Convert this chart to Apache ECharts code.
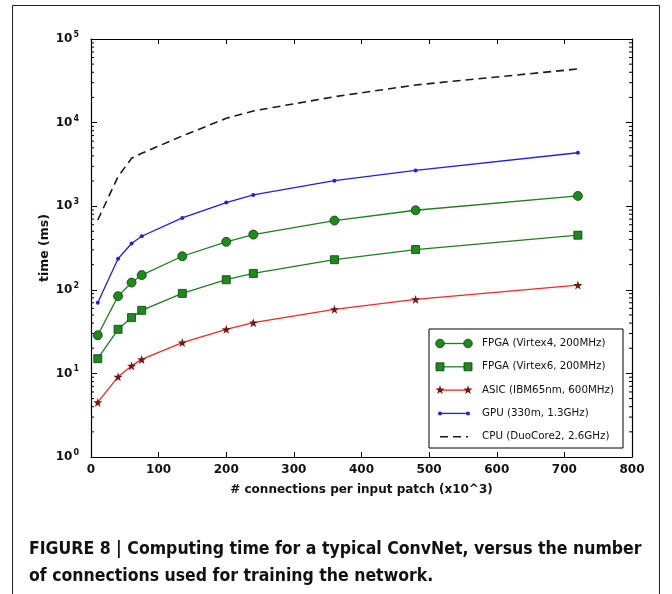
<!DOCTYPE html>
<html>
<head>
<meta charset="utf-8">
<script src="https://cdn.jsdelivr.net/npm/echarts@6/dist/echarts.min.js"></script>
<style>
  html, body { margin: 0; padding: 0; background: #fff; }
  #chart { width: 672px; height: 594px; }
</style>
</head>
<body>
<div id="chart"></div>
<script>
// connections per input patch (x10^3)
const xConn = [10, 40, 60, 75, 135, 200, 240, 360, 480, 720];
// time (ms)
const fpgaV4 = [28.6, 84, 122, 150, 252, 375, 458, 673, 894, 1327];
const fpgaV6 = [15, 33.7, 46.5, 56.8, 90.6, 132, 157, 229, 303, 450];
const asic = [4.5, 9.1, 12.3, 14.7, 23.4, 33.7, 40.4, 58.4, 76.8, 114];
const gpu = [70, 235, 358, 437, 725, 1104, 1364, 2020, 2680, 4360];
const cpu = [684, 2254, 3740, 4300, 6920, 11250, 13780, 20400, 28200, 43800];

const yExponents = [0, 1, 2, 3, 4, 5];
const xTicks = [0, 100, 200, 300, 400, 500, 600, 700, 800];

const FONT = 'DejaVu Sans';
const STAR = 'path://M0,-10L2.35,-3.24L9.51,-3.09L3.8,1.24L5.88,8.09L0,4L-5.88,8.09L-3.8,1.24L-9.51,-3.09L-2.35,-3.24Z';

const seriesDefs = [
  { name: 'FPGA (Virtex4, 200MHz)', data: fpgaV4, line: '#1f7f1f', symbol: 'circle', size: 9, fill: '#1e8a1e', edge: '#0b3d0b', mark: 'circle' },
  { name: 'FPGA (Virtex6, 200MHz)', data: fpgaV6, line: '#1f7f1f', symbol: 'rect', size: 8, fill: '#1e8a1e', edge: '#0b3d0b', mark: 'rect' },
  { name: 'ASIC (IBM65nm, 600MHz)', data: asic, line: '#ee2a2a', symbol: STAR, size: 9, fill: '#7a1414', edge: '#7a1414', mark: 'star' },
  { name: 'GPU (330m, 1.3GHz)', data: gpu, line: '#2020e0', symbol: 'circle', size: 4, fill: '#2020e0', edge: '#2020e0', mark: 'dot' },
  { name: 'CPU (DuoCore2, 2.6GHz)', data: cpu, line: '#1a1a1a', symbol: 'none', size: 0, fill: '#1a1a1a', edge: '#1a1a1a', mark: 'dash' }
];

// log minor tick values (2..9 x 10^k)
const minorTicks = [];
for (let k = 0; k < 5; k++) {
  for (let m = 2; m <= 9; m++) minorTicks.push([0, m * Math.pow(10, k)]);
}

function starPoints(cx, cy, r) {
  const pts = [];
  for (let i = 0; i < 10; i++) {
    const rr = i % 2 === 0 ? r : r * 0.4;
    const a = -Math.PI / 2 + i * Math.PI / 5;
    pts.push([cx + rr * Math.cos(a), cy + rr * Math.sin(a)]);
  }
  return pts;
}

// legend drawn like the matplotlib one (two markers per entry)
function buildLegend() {
  const box = { x: 429, y: 329, w: 194, h: 119 };
  const els = [{
    type: 'rect', shape: { x: box.x, y: box.y, width: box.w, height: box.h },
    style: { fill: '#fff', stroke: '#000', lineWidth: 1 }, z: 100
  }];
  seriesDefs.forEach((s, i) => {
    const cy = box.y + 14.5 + i * 23.3;
    const x1 = 440, x2 = 468;
    els.push({
      type: 'line', shape: { x1: x1, y1: cy, x2: x2, y2: cy }, z: 101,
      style: { stroke: s.line, lineWidth: s.mark === 'dash' ? 1.6 : 1.3, lineDash: s.mark === 'dash' ? [8, 5] : null }
    });
    [x1, x2].forEach(px => {
      if (s.mark === 'circle') {
        els.push({ type: 'circle', shape: { cx: px, cy: cy, r: 4.3 }, z: 102, style: { fill: s.fill, stroke: s.edge, lineWidth: 0.8 } });
      } else if (s.mark === 'rect') {
        els.push({ type: 'rect', shape: { x: px - 4, y: cy - 4, width: 8, height: 8 }, z: 102, style: { fill: s.fill, stroke: s.edge, lineWidth: 0.8 } });
      } else if (s.mark === 'star') {
        els.push({ type: 'polygon', shape: { points: starPoints(px, cy, 4.8) }, z: 102, style: { fill: s.fill } });
      } else if (s.mark === 'dot') {
        els.push({ type: 'circle', shape: { cx: px, cy: cy, r: 2 }, z: 102, style: { fill: s.fill } });
      }
    });
    els.push({
      type: 'text', z: 102,
      style: { text: s.name, x: 482, y: cy, font: '10.3px ' + FONT, fill: '#111', verticalAlign: 'middle', textVerticalAlign: 'middle' }
    });
  });
  return els;
}

const chart = echarts.init(document.getElementById('chart'), null, { renderer: 'canvas' });

const axisLine = { show: true, onZero: false, lineStyle: { color: '#000', width: 1.2 } };

const option = {
  backgroundColor: '#fff',
  animation: false,
  title: {
    text: 'FIGURE 8 | Computing time for a typical ConvNet, versus the number\nof connections used for training the network.',
    left: 24, top: 531,
    textStyle: { fontFamily: 'DejaVu Sans Condensed', fontWeight: 'bold', fontSize: 17.5, lineHeight: 27, color: '#111' }
  },
  grid: { left: 91, top: 39, right: 40, bottom: 137, show: false },
  xAxis: [{
    type: 'value', min: 0, max: 800, interval: 100, position: 'bottom',
    name: '# connections per input patch (x10^3)', nameLocation: 'middle', nameGap: 27,
    nameTextStyle: { fontFamily: FONT, fontWeight: 'bold', fontSize: 12, color: '#111' },
    axisLine: axisLine,
    axisTick: { inside: true, length: 5, lineStyle: { color: '#000', width: 1 } },
    axisLabel: { margin: 7, fontFamily: FONT, fontWeight: 'bold', fontSize: 12, color: '#111',
      formatter: v => xTicks.indexOf(v) >= 0 ? String(v) : '' },
    splitLine: { show: false }
  }, {
    type: 'value', min: 0, max: 800, interval: 100, position: 'top',
    axisLine: axisLine,
    axisTick: { inside: true, length: 5, lineStyle: { color: '#000', width: 1 } },
    axisLabel: { show: false }, splitLine: { show: false }
  }],
  yAxis: [{
    type: 'log', logBase: 10, min: 1, max: 100000, position: 'left',
    name: 'time (ms)', nameLocation: 'middle', nameRotate: 90, nameGap: 40, nameMoveOverlap: false,
    nameTextStyle: { fontFamily: FONT, fontWeight: 'bold', fontSize: 12.5, color: '#111' },
    axisLine: axisLine,
    axisTick: { inside: true, length: 6, lineStyle: { color: '#000', width: 1 } },
    axisLabel: {
      margin: 12,
      formatter: v => {
        const e = Math.round(Math.log10(v));
        return yExponents.indexOf(e) >= 0 ? '{b|10}{s|' + e + '}' : '';
      },
      rich: {
        b: { fontFamily: FONT, fontWeight: 'bold', fontSize: 12, color: '#111' },
        s: { fontFamily: FONT, fontWeight: 'bold', fontSize: 8, color: '#111', verticalAlign: 'top', padding: [0, 0, 8, 1] }
      }
    },
    splitLine: { show: false }
  }, {
    type: 'log', logBase: 10, min: 1, max: 100000, position: 'right',
    axisLine: axisLine,
    axisTick: { inside: true, length: 6, lineStyle: { color: '#000', width: 1 } },
    axisLabel: { show: false }, splitLine: { show: false }
  }],
  graphic: [
    { type: 'rect', shape: { x: 12.5, y: 5.5, width: 647, height: 600 }, style: { fill: 'none', stroke: '#222', lineWidth: 1 }, z: -1, silent: true }
  ].concat(buildLegend()),
  series: [{
    type: 'custom', xAxisIndex: 0, yAxisIndex: 0, silent: true, clip: false,
    data: minorTicks, encode: { x: 0, y: 1 },
    renderItem: (params, api) => {
      const y = api.coord([0, api.value(1)])[1];
      const cs = params.coordSys;
      return {
        type: 'group', children: [
          { type: 'line', shape: { x1: cs.x, y1: y, x2: cs.x + 3, y2: y }, style: { stroke: '#000', lineWidth: 1 } },
          { type: 'line', shape: { x1: cs.x + cs.width, y1: y, x2: cs.x + cs.width - 3, y2: y }, style: { stroke: '#000', lineWidth: 1 } }
        ]
      };
    }
  }].concat(seriesDefs.slice().reverse().map(s => ({
    name: s.name, type: 'line', xAxisIndex: 0, yAxisIndex: 0,
    data: xConn.map((x, i) => [x, s.data[i]]),
    symbol: s.symbol, symbolSize: s.size, showSymbol: s.symbol !== 'none',
    lineStyle: { color: s.line, width: s.mark === 'dash' ? 1.6 : 1.3, type: s.mark === 'dash' ? [8, 5] : 'solid' },
    itemStyle: { color: s.fill, borderColor: s.edge, borderWidth: s.mark === 'circle' || s.mark === 'rect' ? 0.8 : 0 },
    emphasis: { disabled: true }
  })))
};

chart.setOption(option);
</script>
</body>
</html>
